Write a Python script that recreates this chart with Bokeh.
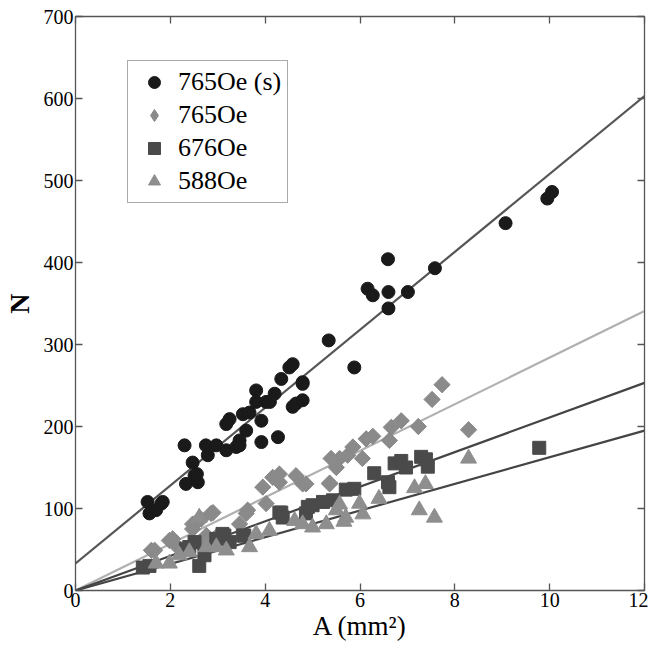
import numpy as np
from bokeh.plotting import figure
from bokeh.models import LinearAxis, Range1d, FixedTicker, Legend, LegendItem, CustomJSTickFormatter
from bokeh.embed import file_html
from bokeh.resources import INLINE

# ---- data ----
s765_x = [1.52, 1.56, 1.70, 1.84, 1.81, 2.30, 2.33, 2.47, 2.51, 2.58, 2.56, 2.75, 2.79, 2.97,
          3.18, 3.18, 3.25, 3.39, 3.46, 3.46, 3.53, 3.60, 3.67, 3.81, 3.81, 3.92, 3.92, 4.02,
          4.10, 4.20, 4.27, 4.34, 4.51, 4.58, 4.58, 4.65, 4.79, 4.79, 4.79, 5.34, 5.88, 6.16,
          6.27, 6.59, 6.60, 6.60, 7.01, 7.58, 9.07, 9.95, 10.05]
s765_y = [108, 94, 98, 108, 106, 177, 130, 156, 140, 132, 142, 177, 165, 177,
          171, 203, 209, 175, 183, 177, 215, 195, 217, 244, 230, 181, 207, 230,
          230, 240, 187, 258, 272, 276, 224, 228, 254, 232, 252, 305, 272, 368,
          360, 404, 364, 344, 364, 393, 448, 478, 486]

d765_x = [1.60, 1.67, 1.98, 2.05, 2.12, 2.47, 2.47, 2.61, 2.61, 2.65, 2.76, 2.86, 2.90, 3.00,
          3.46, 3.60, 3.63, 3.95, 4.02, 4.16, 4.30, 4.30, 4.65, 4.79, 4.86, 5.36, 5.36,
          5.39, 5.50, 5.57, 5.74, 5.85, 6.05, 6.13, 6.27, 6.62, 6.66, 6.87, 7.23, 7.52, 7.73, 8.29]
d765_y = [49, 49, 61, 63, 55, 81, 75, 87, 58, 87, 67, 94, 95, 67,
          81, 94, 98, 126, 106, 138, 132, 142, 140, 130, 130, 130, 131,
          161, 150, 161, 165, 175, 161, 185, 188, 183, 199, 207, 200, 233, 251, 196]

q676_x = [1.42, 1.56, 2.33, 2.40, 2.51, 2.61, 2.72, 2.97, 3.10, 3.14, 3.25, 3.53, 3.56, 4.30,
          4.34, 4.37, 4.86, 4.90, 5.00, 5.22, 5.43, 5.70, 5.88, 6.30, 6.59, 6.62, 6.73, 6.87,
          6.97, 7.29, 7.39, 7.43, 9.78]
q676_y = [28, 30, 51, 53, 59, 30, 43, 63, 69, 67, 59, 67, 67, 95,
          95, 89, 94, 102, 104, 108, 110, 123, 124, 143, 132, 126, 155, 158,
          150, 163, 160, 151, 174]

t588_x = [1.70, 1.98, 2.19, 2.40, 2.61, 2.76, 2.97, 3.18, 3.67, 3.81, 4.09, 4.62, 4.79, 5.00,
          5.29, 5.50, 5.57, 5.66, 5.70, 5.99, 6.06, 6.40, 7.15, 7.25, 7.38, 7.57, 8.29]
t588_y = [33, 33, 43, 47, 89, 53, 53, 49, 53, 69, 73, 85, 81, 77,
          81, 98, 105, 84, 89, 106, 93, 112, 125, 98, 130, 89, 161]

# linear fits N = a*A + b
fit_slope = [47.5, 28.4, 21.1, 16.25]
fit_intercept = [33, 0, 0, 0]

x_ticks = [0, 2, 4, 6, 8, 10, 12]
y_ticks = [0, 100, 200, 300, 400, 500, 600, 700]

SERIF = "Liberation Serif"

p = figure(frame_width=569, frame_height=574, output_backend="svg", toolbar_location=None,
           x_range=Range1d(0, 12), y_range=Range1d(0, 700),
           min_border_left=10, min_border_top=16, min_border_right=4, min_border_bottom=10)
p.background_fill_color = "white"
p.border_fill_color = "white"
p.outline_line_color = "#555555"
p.outline_line_width = 1.3
p.xgrid.visible = False
p.ygrid.visible = False

for ax, ticks in ((p.xaxis[0], x_ticks), (p.yaxis[0], y_ticks)):
    ax.ticker = FixedTicker(ticks=ticks)
    ax.major_tick_in = 7
    ax.major_tick_out = 0
    ax.minor_tick_in = 0
    ax.minor_tick_out = 0
    ax.axis_line_color = "#555555"
    ax.major_tick_line_color = "#555555"
    ax.major_tick_line_width = 1.3
    ax.major_label_text_font = SERIF
    ax.major_label_text_font_size = "20px"
    ax.major_label_text_color = "black"
    ax.axis_label_text_font = SERIF
    ax.axis_label_text_font_style = "normal"
    ax.axis_label_text_color = "black"

p.xaxis.major_label_standoff = 2
p.yaxis.major_label_standoff = 2
p.xaxis.axis_label = "A (mm²)"
p.xaxis.axis_label_text_font_size = "27px"
p.xaxis.axis_label_standoff = 1
p.yaxis.axis_label = "N"
p.yaxis.axis_label_text_font_size = "28px"
p.yaxis.axis_label_text_font_style = "bold"
p.yaxis.axis_label_standoff = 6

# mirror ticks on top and right (no labels)
blank = CustomJSTickFormatter(code="return ''")
for loc, ticks in (("above", x_ticks), ("right", y_ticks)):
    ax = LinearAxis(ticker=FixedTicker(ticks=ticks), formatter=blank,
                    major_tick_in=7, major_tick_out=0,
                    minor_tick_in=0, minor_tick_out=0,
                    major_label_standoff=0, axis_line_color="#555555",
                    major_tick_line_color="#555555", major_tick_line_width=1.3)
    p.add_layout(ax, loc)

# fit lines
line_colors = ["#555555", "#b0b0b0", "#444444", "#444444"]
xs_line = np.array([0.0, 12.0])
for a, b, c in zip(fit_slope, fit_intercept, line_colors):
    p.line(xs_line, a * xs_line + b, line_color=c, line_width=2.2)

r1 = p.scatter(s765_x, s765_y, marker="circle", size=13, fill_color="#1a1a1a", line_color="#1a1a1a")
# diamond glyph (used for the legend symbol), hidden beneath the rotated squares
r2_leg = p.scatter(d765_x, d765_y, marker="diamond", size=15, fill_color="#8a8a8a", line_color="#8a8a8a")
r2 = p.scatter(d765_x, d765_y, marker="square", angle=np.pi / 4, size=11.5,
               fill_color="#8a8a8a", line_color="#8a8a8a")
r3 = p.scatter(q676_x, q676_y, marker="square", size=13, fill_color="#4a4a4a", line_color="#4a4a4a")
r4 = p.scatter(t588_x, t588_y, marker="triangle", size=16, fill_color="#8e8e8e", line_color="#8e8e8e")

legend = Legend(items=[LegendItem(label="765Oe (s)", renderers=[r1]),
                       LegendItem(label="765Oe", renderers=[r2_leg]),
                       LegendItem(label="676Oe", renderers=[r3]),
                       LegendItem(label="588Oe", renderers=[r4])],
                location=(52, 387))
legend.label_text_font = SERIF
legend.label_text_font_size = "26px"
legend.label_text_color = "black"
legend.border_line_color = "#555555"
legend.border_line_width = 1.3
legend.padding = 6
legend.spacing = 3
legend.label_height = 30
legend.glyph_height = 30
legend.glyph_width = 40
legend.label_standoff = 4
legend.margin = 0
legend.background_fill_alpha = 1.0
p.add_layout(legend, "center")

open("out.html", "w").write(file_html(p, INLINE))
